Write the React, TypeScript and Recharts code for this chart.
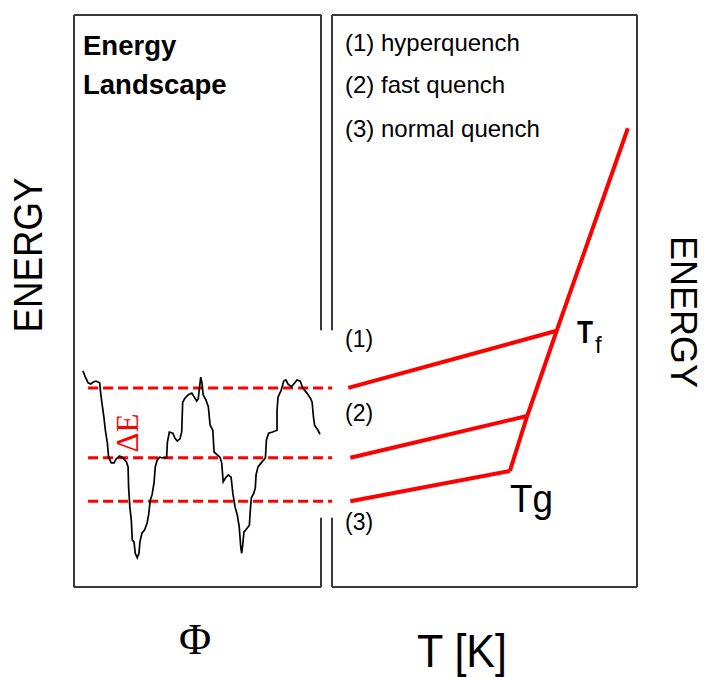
import React from 'react';
import { ComposedChart, Line, XAxis, YAxis, ReferenceLine } from 'recharts';

// ---- Energy landscape (left panel): configuration coordinate Φ (0..10) vs energy (0..10)
const landscapePhi = [
  0.36, 0.46, 0.57, 0.68, 0.77, 0.89, 1.04, 1.08, 1.13, 1.21, 1.27, 1.35, 1.40, 1.51, 1.62, 1.71,
  1.85, 1.94, 2.02, 2.12, 2.19, 2.21, 2.26, 2.32, 2.36, 2.43, 2.48, 2.56, 2.63, 2.67, 2.75, 2.86,
  2.96, 3.02, 3.09, 3.16, 3.24, 3.29, 3.37, 3.47, 3.56, 3.75, 3.78, 3.86, 4.00, 4.09, 4.18, 4.29,
  4.36, 4.40, 4.49, 4.63, 4.77, 4.87, 4.97, 5.03, 5.07, 5.13, 5.18, 5.23, 5.34, 5.44, 5.51, 5.62,
  5.67, 5.80, 5.91, 5.98, 6.04, 6.14, 6.25, 6.36, 6.43, 6.52, 6.61, 6.69, 6.75, 6.79, 6.83, 6.88,
  6.96, 7.10, 7.14, 7.18, 7.28, 7.34, 7.37, 7.45, 7.58, 7.68, 7.75, 7.79, 7.88, 8.04, 8.22, 8.22,
  8.26, 8.39, 8.49, 8.58, 8.66, 8.80, 8.94, 9.03, 9.16, 9.26, 9.43, 9.57, 9.64, 9.70, 9.74, 9.88,
  9.96,
];
const landscapeEnergy = [
  3.78, 3.67, 3.57, 3.55, 3.58, 3.60, 3.57, 3.39, 3.22, 2.97, 2.74, 2.52, 2.27, 2.17, 2.17, 2.24,
  2.29, 2.27, 2.24, 2.19, 2.10, 1.75, 1.40, 1.17, 0.82, 0.79, 0.59, 0.51, 0.59, 0.79, 0.94, 1.00,
  1.12, 1.26, 1.52, 1.61, 1.82, 2.10, 2.22, 2.27, 2.26, 2.26, 2.53, 2.71, 2.69, 2.60, 2.55, 2.59,
  2.71, 3.23, 3.30, 3.36, 3.39, 3.32, 3.25, 3.29, 3.44, 3.67, 3.57, 3.36, 3.27, 3.15, 2.83, 2.74,
  2.36, 2.31, 2.27, 2.17, 1.84, 1.91, 1.96, 1.92, 1.64, 1.40, 1.26, 1.05, 0.70, 0.59, 0.73, 0.96,
  1.00, 1.08, 1.35, 1.56, 1.64, 1.73, 1.96, 2.10, 2.17, 2.22, 2.26, 2.57, 2.69, 2.71, 2.74, 3.09,
  3.32, 3.44, 3.60, 3.62, 3.55, 3.50, 3.57, 3.62, 3.60, 3.48, 3.39, 3.30, 3.23, 2.95, 2.83, 2.74,
  2.67,
];
const landscape = landscapePhi.map((phi, i) => ({ phi, E: landscapeEnergy[i] }));

// ---- Quench levels (energy at which each quench freezes in)
const quenchLevels = [3.48, 2.26, 1.5];
const dashStartPhi = 0.57;
const dashEndPhi = 10.45;

// ---- Right panel: temperature (0..300 K) vs energy
const glassStartT = [16, 18, 18];
const glassEndT = [221, 192, 175];
const glassEndE = [4.48, 2.99, 2.03];
const liquidT = [175, 192, 221, 291];
const liquidE = [2.03, 2.99, 4.48, 8.02];

const glassLines = quenchLevels.map((lvl, i) => [
  { T: glassStartT[i], E: lvl },
  { T: glassEndT[i], E: glassEndE[i] },
]);
const liquidLine = liquidT.map((T, i) => ({ T, E: liquidE[i] }));

// ---- Texts
const legendLabels = ['(1) hyperquench', '(2) fast quench', '(3) normal quench'];
const quenchTags = ['(1)', '(2)', '(3)'];

// panel frame (gap in the inner side between these energies)
const gapTop = 4.49;
const gapBottom = 1.21;
const phiMax = 10;
const eMax = 10;
const tMax = 300;

const RED = '#ff0000';
const BORDER = '#383838';
const SANS = '"Liberation Sans", Arial, sans-serif';
const SERIF = '"Liberation Serif", "Times New Roman", serif';

const leftFrame = [
  [{ x: 0, y: 0 }, { x: phiMax, y: 0 }],
  [{ x: 0, y: eMax }, { x: phiMax, y: eMax }],
  [{ x: 0, y: 0 }, { x: 0, y: eMax }],
  [{ x: phiMax, y: eMax }, { x: phiMax, y: gapTop }],
  [{ x: phiMax, y: gapBottom }, { x: phiMax, y: 0 }],
];
const rightFrame = [
  [{ x: 0, y: 0 }, { x: tMax, y: 0 }],
  [{ x: 0, y: eMax }, { x: tMax, y: eMax }],
  [{ x: tMax, y: 0 }, { x: tMax, y: eMax }],
  [{ x: 0, y: eMax }, { x: 0, y: gapTop }],
  [{ x: 0, y: gapBottom }, { x: 0, y: 0 }],
];

export default function App() {
  return (
    <div style={{ position: 'absolute', left: 0, top: 0, width: 707, height: 677, background: '#fff', overflow: 'hidden' }}>
      <div style={{ position: 'absolute', left: 0, top: 0 }}>
        <ComposedChart width={340} height={677} margin={{ top: 15, left: 74, right: 19, bottom: 90 }}>
          <XAxis dataKey="phi" type="number" domain={[0, phiMax]} hide />
          <YAxis type="number" domain={[0, eMax]} hide />
          {leftFrame.map((seg, i) => (
            <ReferenceLine key={'lf' + i} segment={seg} ifOverflow="visible" stroke={BORDER} strokeWidth={2} />
          ))}
          {quenchLevels.map((lvl, i) => (
            <ReferenceLine
              key={'q' + i}
              segment={[{ x: dashStartPhi, y: lvl }, { x: dashEndPhi, y: lvl }]}
              ifOverflow="visible"
              stroke={RED}
              strokeWidth={3}
              strokeDasharray="10 5"
            />
          ))}
          <Line
            data={landscape}
            dataKey="E"
            type="linear"
            stroke="#000"
            strokeWidth={1.7}
            dot={false}
            activeDot={false}
            isAnimationActive={false}
          />
        </ComposedChart>
      </div>
      <div style={{ position: 'absolute', left: 0, top: 0 }}>
        <ComposedChart width={707} height={677} margin={{ top: 15, left: 332, right: 70, bottom: 90 }}>
          <XAxis dataKey="T" type="number" domain={[0, tMax]} hide />
          <YAxis type="number" domain={[0, eMax]} hide />
          {rightFrame.map((seg, i) => (
            <ReferenceLine key={'rf' + i} segment={seg} ifOverflow="visible" stroke={BORDER} strokeWidth={2} />
          ))}
          {glassLines.map((d, i) => (
            <Line
              key={'g' + i}
              data={d}
              dataKey="E"
              type="linear"
              stroke={RED}
              strokeWidth={4}
              dot={false}
              activeDot={false}
              isAnimationActive={false}
            />
          ))}
          <Line
            data={liquidLine}
            dataKey="E"
            type="linear"
            stroke={RED}
            strokeWidth={4}
            dot={false}
            activeDot={false}
            isAnimationActive={false}
          />
        </ComposedChart>
      </div>
      <svg width={707} height={677} style={{ position: 'absolute', left: 0, top: 0, pointerEvents: 'none' }}>
        <g fontFamily={SANS} fill="#000">
          <text x={83} y={55} fontSize={27.5} fontWeight="bold">Energy</text>
          <text x={83} y={94} fontSize={27.5} fontWeight="bold">Landscape</text>
          {legendLabels.map((t, i) => (
            <text key={t} x={345} y={[51, 93, 137][i]} fontSize={24}>{t}</text>
          ))}
          {quenchTags.map((t, i) => (
            <text key={t} x={345} y={[347, 421, 530][i]} fontSize={23}>{t}</text>
          ))}
          <text x={577} y={343} fontSize={31} fontWeight="bold" textLength={16} lengthAdjust="spacingAndGlyphs">T</text>
          <text x={595} y={353} fontSize={24}>f</text>
          <text x={510} y={512} fontSize={38} textLength={43} lengthAdjust="spacingAndGlyphs">Tg</text>
          <text transform="translate(42,255) rotate(-90)" textAnchor="middle" fontSize={40} textLength={155} lengthAdjust="spacingAndGlyphs">ENERGY</text>
          <text transform="translate(671,312) rotate(90)" textAnchor="middle" fontSize={37} textLength={152} lengthAdjust="spacingAndGlyphs">ENERGY</text>
          <text x={417} y={667} fontSize={46} textLength={90} lengthAdjust="spacingAndGlyphs">T [K]</text>
        </g>
        <text x={195} y={654} fontFamily={SERIF} fontSize={44} textAnchor="middle" fill="#000">Φ</text>
        <text transform="translate(138,433) rotate(-90)" textAnchor="middle" fontFamily={SERIF} fontSize={31} fill={RED}>ΔE</text>
      </svg>
    </div>
  );
}
